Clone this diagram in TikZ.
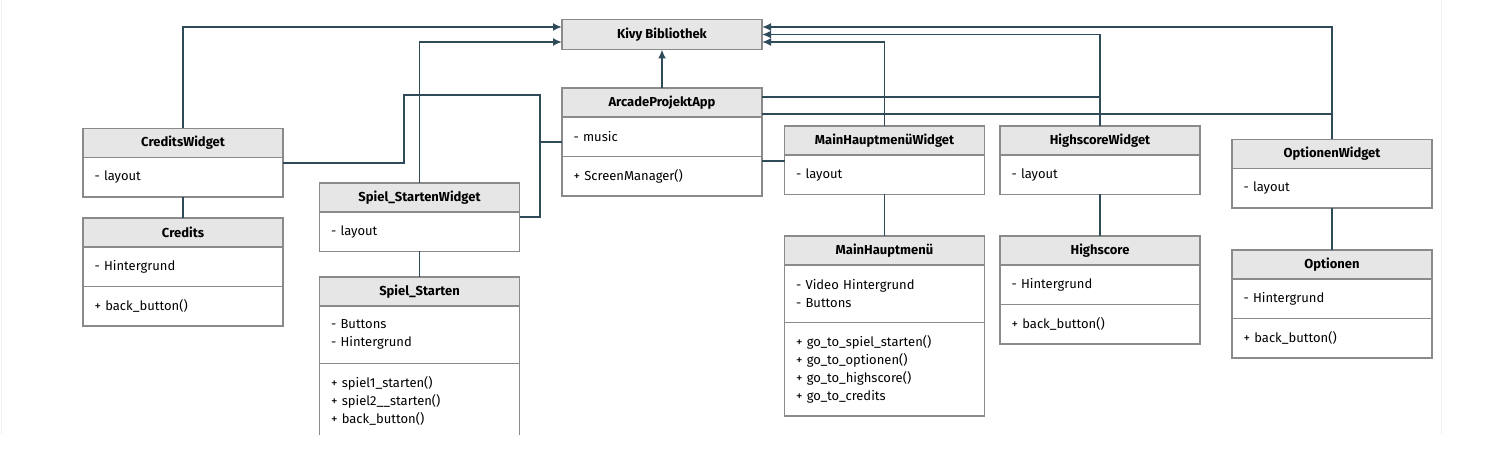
\documentclass[tikz,border=0pt]{standalone}
\usepackage{fontspec}
\setmainfont{Fira Sans}
\usetikzlibrary{positioning}
\usetikzlibrary{arrows.meta}
\definecolor{linecol}{HTML}{2F4A58}
\definecolor{boxcol}{HTML}{8A8A8A}
\definecolor{headcol}{HTML}{E6E6E6}

\begin{document}
\begin{tikzpicture}[x=1pt,y=-1pt,
	head/.style={draw=boxcol, line width=1.6pt, fill=headcol, minimum width=200pt, minimum height=29pt, inner sep=0pt, outer sep=0pt, anchor=north west, font=\fontsize{13}{18}\selectfont\bfseries},
	part/.style={draw=boxcol, line width=1.6pt, fill=white, minimum width=200pt, text width=177pt, inner xsep=11.5pt, inner ysep=2pt, outer sep=0pt, align=left, below=0pt of #1, font=\fontsize{13}{18}\selectfont},
	l1/.style={minimum height=39.5pt},
	l2/.style={minimum height=57.5pt},
	l3/.style={minimum height=75.5pt},
	l4/.style={minimum height=93.5pt},
	link/.style={draw=linecol, line width=1.8pt},
	inh/.style={link, -{Latex[length=9pt,width=8pt]}}]
	\useasboundingbox (0,0) rectangle (1508,449);
	\draw[gray!12, line width=1pt] (1,0) -- (1,434);
	\draw[gray!12, line width=1pt] (1441,0) -- (1441,434);
	
	\begin{scope}
	\clip (0,0) rectangle (1441,434.5);
	% Nodes
	\node[head, minimum height=30pt] (kivy) at (562,19.5) {Kivy Bibliothek};
	
	\node[head] (app) at (562,88) {ArcadeProjektApp};
	\node[part=app, l1] (app-a) {- music};
	\node[part=app-a, l1] (app-m) {+ ScreenManager()};
	
	\node[head] (cw) at (83,128.5) {CreditsWidget};
	\node[part=cw, l1] (cw-a) {- layout};
	\node[head] (credits) at (83,218) {Credits};
	\node[part=credits, l1] (credits-a) {- Hintergrund};
	\node[part=credits-a, l1] (credits-m) {+ back\_button()};
	
	\node[head] (ssw) at (319.5,183) {Spiel\_StartenWidget};
	\node[part=ssw, l1] (ssw-a) {- layout};
	\node[head] (ss) at (319.5,277) {Spiel\_Starten};
	\node[part=ss, l2] (ss-a) {- Buttons\\- Hintergrund};
	\node[part=ss-a, l3] (ss-m) {+ spiel1\_starten()\\+ spiel2\_\_starten()\\+ back\_button()};
	
	\node[head] (mhw) at (784.5,126) {MainHauptmenüWidget};
	\node[part=mhw, l1] (mhw-a) {- layout};
	\node[head] (mh) at (784.5,236) {MainHauptmenü};
	\node[part=mh, l2] (mh-a) {- Video Hintergrund\\- Buttons};
	\node[part=mh-a, l4] (mh-m) {+ go\_to\_spiel\_starten()\\+ go\_to\_optionen()\\+ go\_to\_highscore()\\+ go\_to\_credits};
	
	\node[head] (hw) at (1000,126) {HighscoreWidget};
	\node[part=hw, l1] (hw-a) {- layout};
	\node[head] (hs) at (1000,236) {Highscore};
	\node[part=hs, l1] (hs-a) {- Hintergrund};
	\node[part=hs-a, l1] (hs-m) {+ back\_button()};
	
	\node[head] (ow) at (1232,139.5) {OptionenWidget};
	\node[part=ow, l1] (ow-a) {- layout};
	\node[head] (opt) at (1232,250) {Optionen};
	\node[part=opt, l1] (opt-a) {- Hintergrund};
	\node[part=opt-a, l1] (opt-m) {+ back\_button()};
	
	% Vererbung
	\draw[inh] (cw.north) |- ([yshift=7.5pt]kivy.west);
	\draw[inh] (ssw.north) |- ([yshift=-7.5pt]kivy.west);
	\draw[inh] (app.north) -- (kivy.south);
	\draw[inh] (mhw.north) |- ([yshift=-7.5pt]kivy.east);
	\draw[inh] (hw.north) |- (kivy.east);
	\draw[inh] (ow.north) |- ([yshift=7.5pt]kivy.east);
	
	% App
	\coordinate (j1) at (540,142);
	\draw[link] (j1 -| app.west) -- (j1) |- (404,95) |- ([yshift=-5.5pt]cw.south east);
	\draw[link] (j1) |- ([yshift=-5pt]ssw.south east);
	\draw[link] ([yshift=-9pt]app.north east) -- ([yshift=-9pt]app.north east -| hw.north);
	\draw[link] ([yshift=-26pt]app.north east) -- ([yshift=-26pt]app.north east -| ow.north);
	\draw[link] ([yshift=-6pt]mhw.south west) -- ([yshift=-6pt]mhw.south west -| app.east);
	
	% Widget -- Screen
	\draw[link] (cw-a.south) -- (credits.north);
	\draw[link] (ssw-a.south) -- (ss.north);
	\draw[link] (mhw-a.south) -- (mh.north);
	\draw[link] (hw-a.south) -- (hs.north);
	\draw[link] (ow-a.south) -- (opt.north);
	\end{scope}
\end{tikzpicture}
\end{document}
